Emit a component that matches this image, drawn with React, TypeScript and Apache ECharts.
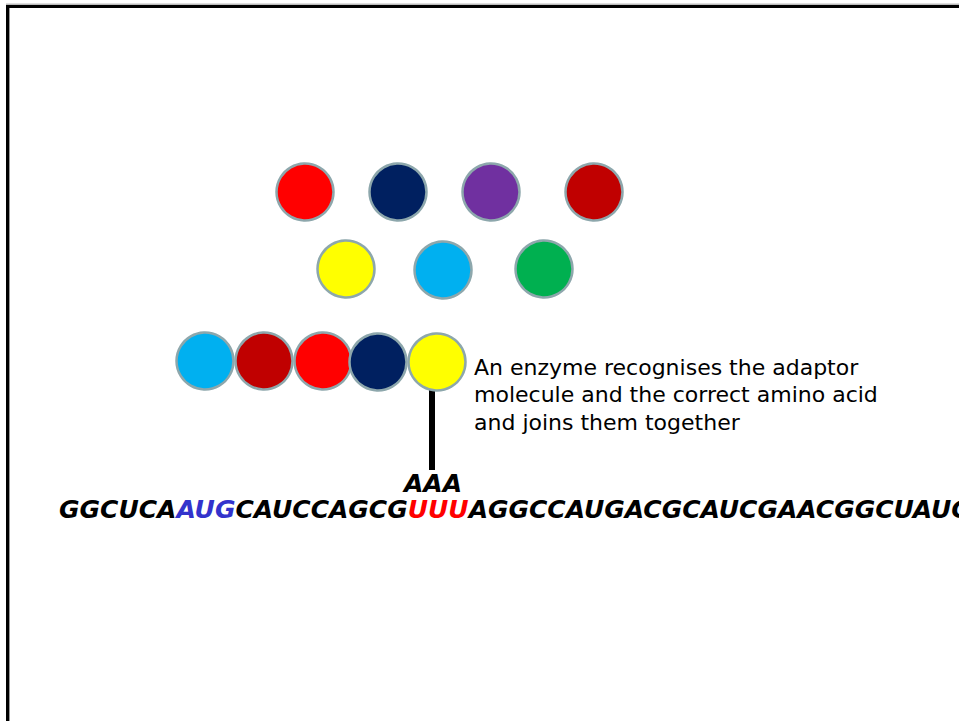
import React, { useEffect, useRef } from "react";
import * as echarts from "echarts";

// Amino acid "beads" (x, y in slide pixels)
const freeX = [305, 398, 491, 594, 346, 443, 544];
const freeY = [192, 192, 192, 192, 269, 270, 269];
const freeColors = ["#FF0000", "#002060", "#7030A0", "#C00000", "#FFFF00", "#00B0F0", "#00B050"];

// Growing chain
const chainX = [205, 264, 323, 378, 437];
const chainY = [361, 361, 361, 362, 362];
const chainColors = ["#00B0F0", "#C00000", "#FF0000", "#002060", "#FFFF00"];

// Adaptor stalk
const stalkX = [432, 432];
const stalkY = [390, 470];

// Sequence segments
const seqParts = ["GGCUCA", "AUG", "CAUCCAGCG", "UUU", "AGGCCAUGACGCAUCGAACGGCUAUC"];
const seqStyles = ["k", "b", "k", "r", "k"];
const anticodon = "AAA";
const noteLines = [
  "An enzyme recognises the adaptor",
  "molecule and the correct amino acid",
  "and joins them together",
];

export default function App() {
  const ref = useRef<HTMLDivElement>(null);
  useEffect(() => {
    if (!ref.current) return;
    const chart = echarts.init(ref.current, null, { renderer: "svg" });
    const seqFont = "'Comic Sans MS', 'DejaVu Sans', sans-serif";
    const fs = 25;
    const circleData = (xs: number[], ys: number[], cs: string[]) =>
      xs.map((x, i) => ({ value: [x, ys[i]], itemStyle: { color: cs[i] } }));
    const runStyle = (c: string) => ({
      fill: c,
      color: c,
      fontFamily: seqFont,
      fontSize: fs,
      fontWeight: "bold",
      fontStyle: "italic",
      lineHeight: 20,
    });
    chart.setOption({
      animation: false,
      backgroundColor: "#ffffff",
      grid: { left: 0, right: 0, top: 0, bottom: 0 },
      xAxis: { type: "value", min: 0, max: 959, show: false },
      yAxis: { type: "value", min: 0, max: 721, inverse: true, show: false },
      series: [
        {
          type: "line",
          data: stalkX.map((x, i) => [x, stalkY[i]]),
          showSymbol: false,
          symbol: "none",
          lineStyle: { color: "#000000", width: 6 },
          z: 1,
        },
        {
          type: "scatter",
          data: circleData(freeX, freeY, freeColors),
          symbol: "circle",
          symbolSize: 57,
          itemStyle: { borderColor: "#8DA7AC", borderWidth: 2.5, opacity: 1 },
          z: 2,
        },
        {
          type: "scatter",
          data: circleData(chainX, chainY, chainColors),
          symbol: "circle",
          symbolSize: 57,
          itemStyle: { borderColor: "#8DA7AC", borderWidth: 2.5, opacity: 1 },
          z: 2,
        },
      ],
      graphic: [
        { type: "rect", shape: { x: 6, y: 3.5, width: 953, height: 1.5 }, style: { fill: "#BBBBBB" }, silent: true },
        { type: "rect", shape: { x: 6, y: 5, width: 953, height: 3 }, style: { fill: "#000000" }, silent: true },
        { type: "rect", shape: { x: 9, y: 8, width: 1, height: 713 }, style: { fill: "#999999" }, silent: true },
        { type: "rect", shape: { x: 6, y: 5, width: 3, height: 716 }, style: { fill: "#000000" }, silent: true },
        {
          type: "text",
          x: 474,
          y: 353.5,
          style: {
            text: noteLines.join("\n"),
            fontFamily: "'Comic Sans MS', 'DejaVu Sans', sans-serif",
            fontSize: 22,
            lineHeight: 27.5,
            fill: "#000000",
            align: "left",
            verticalAlign: "top",
          },
        },
        {
          type: "text",
          x: 433,
          y: 483,
          style: {
            text: anticodon,
            fontFamily: seqFont,
            fontSize: fs,
            fontWeight: "bold",
            fontStyle: "italic",
            lineHeight: 20,
            fill: "#000000",
            align: "center",
            verticalAlign: "middle",
          },
        },
        {
          type: "text",
          x: 59,
          y: 509,
          style: {
            text: seqParts.map((p, i) => `{${seqStyles[i]}|${p}}`).join(""),
            fontFamily: seqFont,
            fontSize: fs,
            fontWeight: "bold",
            fontStyle: "italic",
            lineHeight: 20,
            align: "left",
            verticalAlign: "middle",
            rich: {
              k: runStyle("#000000"),
              b: runStyle("#3333CC"),
              r: runStyle("#FF0000"),
            },
          },
        },
      ],
    });
    return () => chart.dispose();
  }, []);
  return (
    <div
      ref={ref}
      style={{ position: "absolute", left: 0, top: 0, width: 959, height: 721, background: "#fff" }}
    />
  );
}
